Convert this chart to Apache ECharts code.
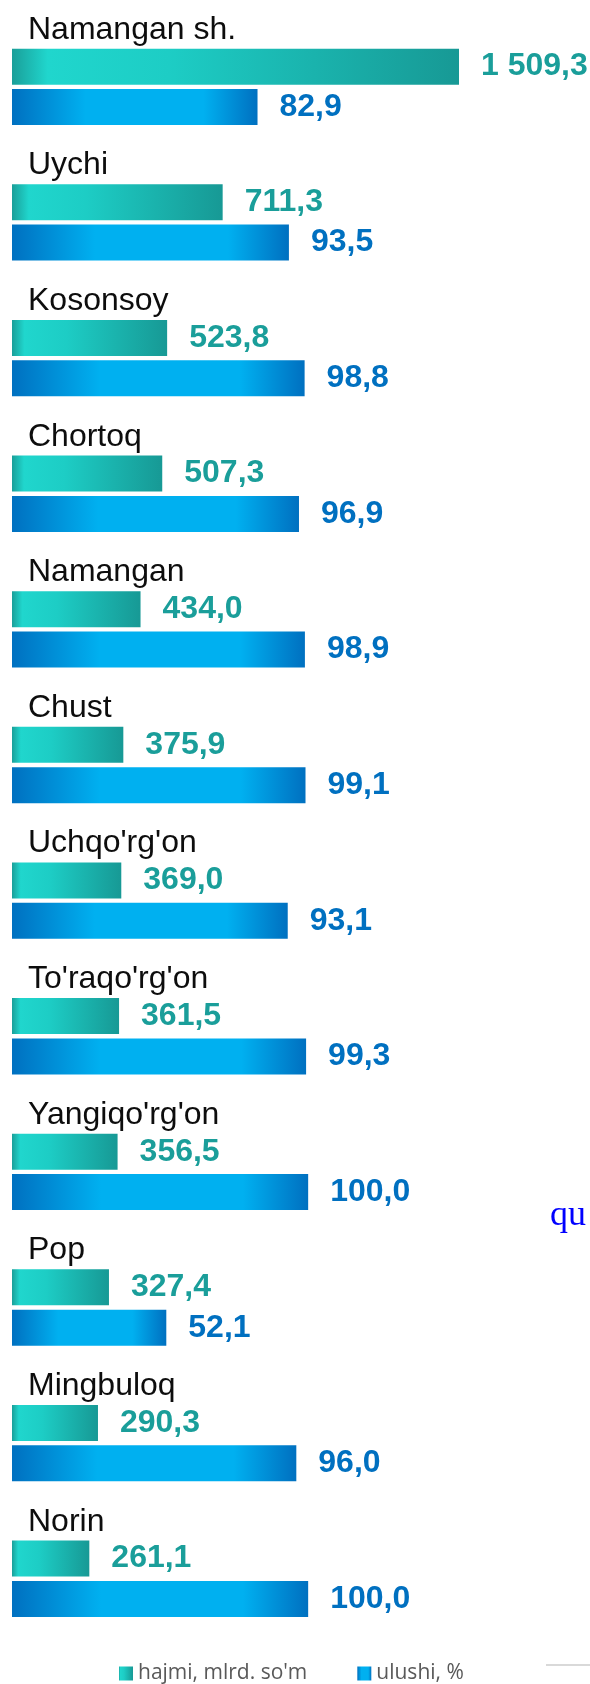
<!DOCTYPE html>
<html style="height: 100%">
<head>
<meta charset="utf-8">
<script src="https://cdn.jsdelivr.net/npm/echarts@6/dist/echarts.min.js"></script>
<title>Hududlar</title>
</head>
<body style="height: 100%; margin: 0; background: #fff">
<div id="container" style="width: 590px; height: 1684px"></div>
<script type="text/javascript">
// tumanlar (yuqoridan pastga)
var districts = ['Namangan sh.', 'Uychi', 'Kosonsoy', 'Chortoq', 'Namangan', 'Chust',
    "Uchqo'rg'on", "To'raqo'rg'on", "Yangiqo'rg'on", 'Pop', 'Mingbuloq', 'Norin'];
// hajmi, mlrd. so'm
var hajmi = [1509.3, 711.3, 523.8, 507.3, 434.0, 375.9, 369.0, 361.5, 356.5, 327.4, 290.3, 261.1];
// ulushi, %
var ulushi = [82.9, 93.5, 98.8, 96.9, 98.9, 99.1, 93.1, 99.3, 100.0, 52.1, 96.0, 100.0];
var seriesNames = ["hajmi, mlrd. so'm", 'ulushi, %'];

function fmt(v) {
    var parts = v.toFixed(1).split('.');
    var intPart = parts[0].replace(/\B(?=(\d{3})+(?!\d))/g, ' ');
    return intPart + ',' + parts[1];
}

var tealGrad = new echarts.graphic.LinearGradient(0, 0, 1, 0, [
    { offset: 0, color: '#1a9f99' },
    { offset: 0.08, color: '#20d6cd' },
    { offset: 0.35, color: '#1dcdc5' },
    { offset: 1, color: '#179995' }
]);
var blueGrad = new echarts.graphic.LinearGradient(0, 0, 1, 0, [
    { offset: 0, color: '#0070c0' },
    { offset: 0.3, color: '#00b0f0' },
    { offset: 0.78, color: '#00b0f0' },
    { offset: 1, color: '#0070c0' }
]);

var chart = echarts.init(document.getElementById('container'));
chart.setOption({
    animation: false,
    grid: { left: 12, right: 44.9, top: 19, bottom: 37.4 },
    legend: {
        data: seriesNames,
        left: 114,
        top: 1658,
        icon: 'rect',
        itemWidth: 14,
        itemHeight: 14,
        itemGap: 50,
        textStyle: { fontSize: 21, color: '#595959', fontFamily: 'Open Sans' }
    },
    xAxis: [
        { type: 'value', min: 0, max: 1800, show: false },
        { type: 'value', min: 0, max: 180, show: false }
    ],
    yAxis: {
        type: 'category',
        data: districts,
        inverse: true,
        axisLine: { show: false },
        axisTick: { show: false },
        splitLine: { show: false },
        axisLabel: {
            inside: true,
            margin: 16,
            align: 'left',
            verticalAlign: 'bottom',
            padding: [0, 0, 41, 0],
            fontSize: 32,
            color: '#0d0d0d',
            fontFamily: 'Liberation Sans'
        }
    },
    series: [
        {
            name: seriesNames[0],
            type: 'bar',
            xAxisIndex: 0,
            data: hajmi,
            barWidth: 36,
            barGap: '12%',
            itemStyle: { color: tealGrad },
            label: {
                show: true,
                position: 'right',
                distance: 22,
                formatter: function (p) { return fmt(p.value); },
                fontSize: 32,
                fontWeight: 'bold',
                fontFamily: 'Liberation Sans',
                color: '#1a9e9a'
            }
        },
        {
            name: seriesNames[1],
            type: 'bar',
            xAxisIndex: 1,
            data: ulushi,
            barWidth: 36,
            itemStyle: { color: blueGrad },
            label: {
                show: true,
                position: 'right',
                distance: 22,
                formatter: function (p) { return fmt(p.value); },
                fontSize: 32,
                fontWeight: 'bold',
                fontFamily: 'Liberation Sans',
                color: '#0070c0'
            }
        }
    ],
    graphic: [
        {
            type: 'text',
            x: 550,
            y: 1216,
            style: {
                text: 'qu',
                font: '36px "Liberation Serif"',
                fill: '#0000ff',
                verticalAlign: 'middle'
            }
        },
        {
            type: 'line',
            shape: { x1: 546, y1: 1665, x2: 590, y2: 1665 },
            style: { stroke: '#d9d9d9', lineWidth: 2 }
        }
    ]
});
</script>
</body>
</html>
